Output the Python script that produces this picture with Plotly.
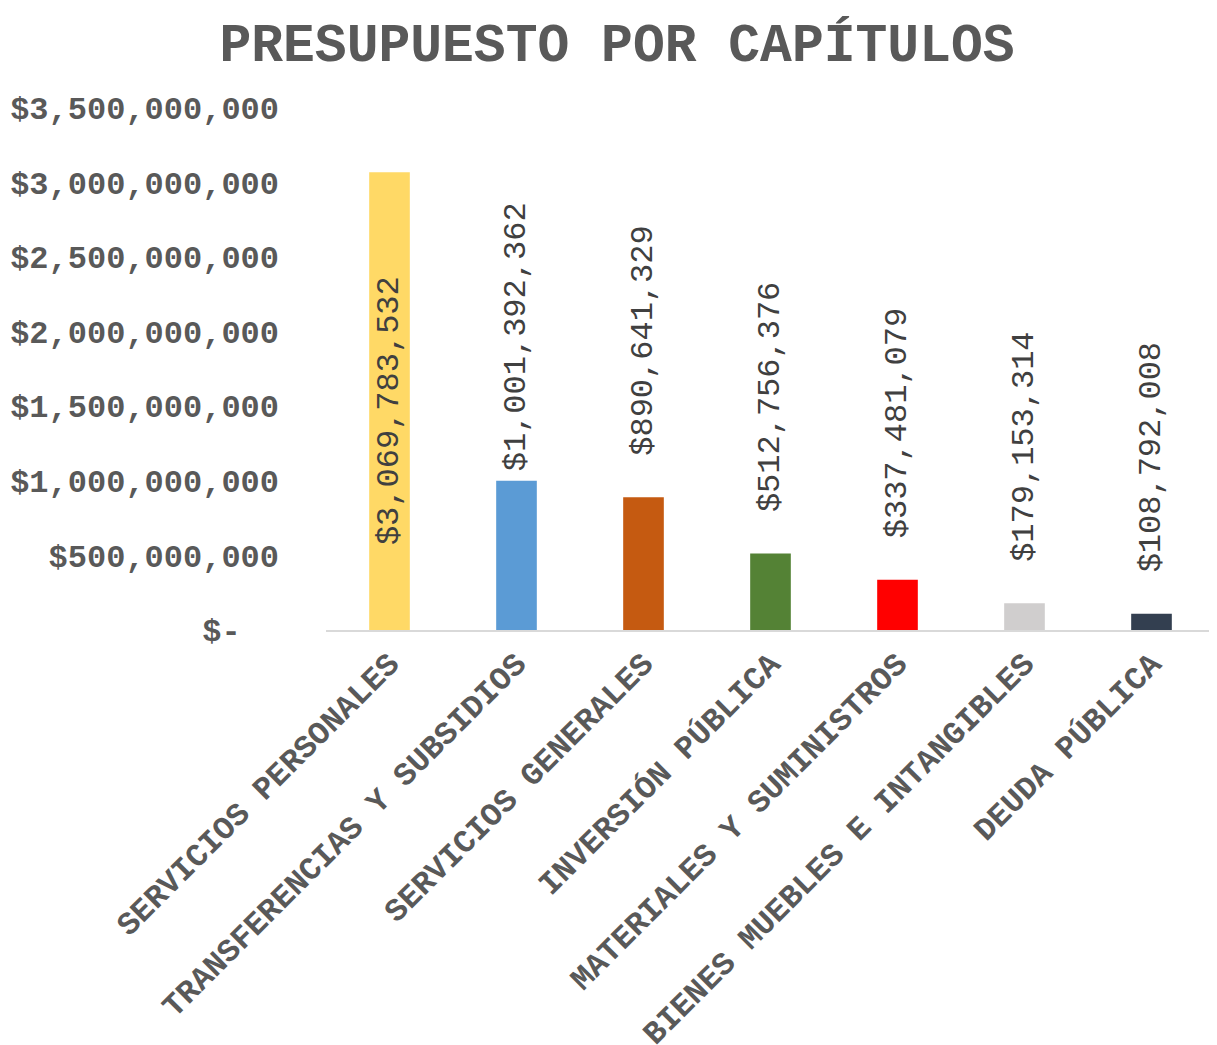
import plotly.graph_objects as go

categories = ["SERVICIOS PERSONALES", "TRANSFERENCIAS Y SUBSIDIOS", "SERVICIOS GENERALES",
              "INVERSIÓN PÚBLICA", "MATERIALES Y SUMINISTROS", "BIENES MUEBLES E INTANGIBLES",
              "DEUDA PÚBLICA"]
values = [3069783532, 1001392362, 890641329, 512756376, 337481079, 179153314, 108792008]
colors = ["#FFD966", "#5B9BD5", "#C55A11", "#548235", "#FF0000", "#D0CECE", "#333F50"]
label_positions = ["inside", "outside", "outside", "outside", "outside", "outside", "outside"]
tick_values = [0, 500000000, 1000000000, 1500000000, 2000000000, 2500000000, 3000000000, 3500000000]
tick_labels = ["$-\u00a0\u00a0", "$500,000,000", "$1,000,000,000", "$1,500,000,000", "$2,000,000,000",
               "$2,500,000,000", "$3,000,000,000", "$3,500,000,000"]

NB = "\u00a0"
label_templates = ["$%{y:,.0f}" + NB, "\u2009$%{y:,.0f}"] + [NB * 2 + "$%{y:,.0f}"] * 5

SLAB = "Liberation Mono, Courier New, monospace"
GREY = "#595959"

fig = go.Figure(go.Bar(
    x=categories, y=values,
    marker=dict(color=colors, line=dict(width=0)),
    texttemplate=label_templates,
    textposition=label_positions,
    textangle=-90,
    insidetextanchor="middle",
    constraintext="none",
    cliponaxis=False,
    textfont=dict(family=SLAB, size=32, color="#404040"),
))

fig.update_layout(
    width=1209, height=1037,
    paper_bgcolor="white", plot_bgcolor="white",
    margin=dict(l=318, r=2, t=100, b=415, autoexpand=False),
    bargap=0.68,
    showlegend=False,
    uniformtext=dict(minsize=32, mode="show"),
    title=dict(text="<b>PRESUPUESTO POR CAPÍTULOS</b>", x=609 / 1209, xanchor="center",
               y=1 - 34 / 1037, yanchor="middle", yref="container",
               font=dict(family=SLAB, size=53, color=GREY)),
    font=dict(family=SLAB, color=GREY),
)
fig.update_xaxes(
    automargin=False,
    showline=True, linecolor="#D9D9D9", linewidth=2,
    tickangle=-45, ticks="",
    tickfont=dict(family=SLAB, size=32, color=GREY, weight="bold"),
    showgrid=False,
)
fig.update_yaxes(
    automargin=False,
    range=[0, 3500000000], tickvals=tick_values, ticktext=tick_labels,
    showgrid=False, zeroline=False, showline=False, ticks="",
    ticklabelstandoff=46,
    tickfont=dict(family=SLAB, size=32, color=GREY, weight="bold"),
)

fig.write_html("out.html")
